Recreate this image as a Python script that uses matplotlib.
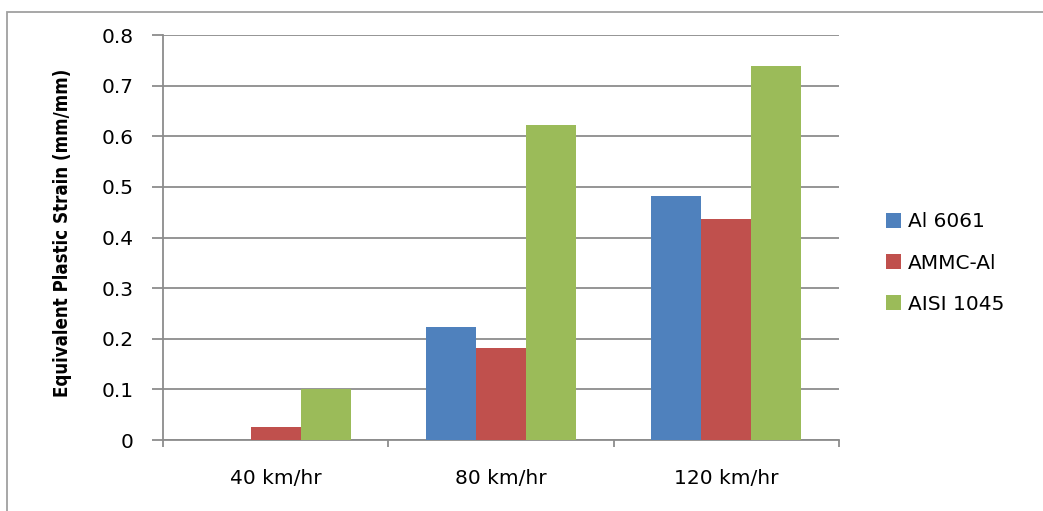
import matplotlib
matplotlib.use("Agg")
import matplotlib.pyplot as plt
import numpy as np
from matplotlib.patches import Rectangle

categories = ["40 km/hr", "80 km/hr", "120 km/hr"]
series_names = ["Al 6061", "AMMC-Al", "AISI 1045"]
al6061 = [0.0, 0.224, 0.481]
ammc_al = [0.026, 0.182, 0.436]
aisi1045 = [0.100, 0.623, 0.739]
yticks = [0, 0.1, 0.2, 0.3, 0.4, 0.5, 0.6, 0.7, 0.8]
ytick_labels = ["0", "0.1", "0.2", "0.3", "0.4", "0.5", "0.6", "0.7", "0.8"]

colors = ["#4F81BD", "#C0504D", "#9BBB59"]
grid_c = "#8C8C8C"
fs = 14.5

W, H = 1043, 511
fig = plt.figure(figsize=(W / 100, H / 100), dpi=100)
fig.patch.set_facecolor("white")

# outer chart border (top & left visible)
fig.patches.append(Rectangle((7 / W, -0.1), 1.2, 1 - 12 / H + 0.1,
                             transform=fig.transFigure, fill=False,
                             edgecolor="#A0A0A0", linewidth=1.3))

ax = fig.add_axes([163 / W, (H - 440) / H, (839 - 163) / W, (440 - 35) / H])
x = np.arange(len(categories))
bw = 0.2217
for i, (vals, name, c) in enumerate(zip([al6061, ammc_al, aisi1045], series_names, colors)):
    ax.bar(x + (i - 1) * bw, vals, width=bw, color=c, label=name, zorder=3,
           linewidth=0)

ax.set_xlim(-0.5, 2.5)
ax.set_ylim(0, 0.8)
ax.set_yticks(yticks)
ax.set_yticklabels(ytick_labels)
ax.yaxis.grid(True, color=grid_c, linewidth=1.3, zorder=0)
ax.set_axisbelow(True)

for s in ["top", "right"]:
    ax.spines[s].set_visible(False)
for s in ["left", "bottom"]:
    ax.spines[s].set_color(grid_c)
    ax.spines[s].set_linewidth(1.3)

ax.set_xticks(x)
ax.set_xticklabels(categories)
ax.set_xticks([-0.5, 0.5, 1.5, 2.5], minor=True)
ax.tick_params(axis="x", which="major", length=0, pad=21, labelsize=fs, colors="black")
ax.tick_params(axis="x", which="minor", length=5, width=1.3, color=grid_c, direction="out")
ax.tick_params(axis="y", length=8, width=1.3, color=grid_c, pad=13, labelsize=fs)

ax.set_ylabel("Equivalent Plastic Strain (mm/mm)", fontsize=13.4, fontweight="bold",
              fontstretch="condensed")
ax.yaxis.set_label_coords((72 - 163) / (839 - 163), (440 - 233) / (440 - 35))

leg = fig.legend(loc="center left", bbox_to_anchor=(868 / W, 1 - 263 / H),
                 frameon=False, fontsize=fs, handlelength=0.75, handleheight=0.75,
                 handletextpad=0.35, labelspacing=1.1)

fig.savefig("out.png", dpi=100)
